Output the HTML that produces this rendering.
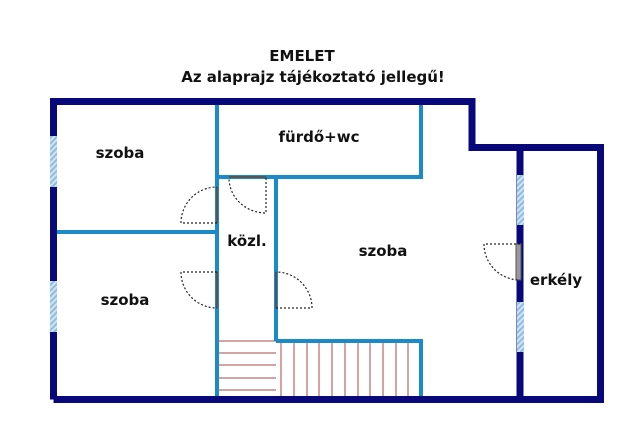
<!DOCTYPE html>
<html><head><style>
body{margin:0;background:#fff}
svg text{font-family:"DejaVu Sans","Liberation Sans",sans-serif;font-weight:bold;fill:#111}
</style></head><body>
<svg width="640" height="437" viewBox="0 0 640 437" xmlns="http://www.w3.org/2000/svg">
<defs><pattern id="h" width="4" height="4" patternUnits="userSpaceOnUse" patternTransform="rotate(45)"><rect width="4" height="4" fill="#cfe3f3"/><rect width="2" height="4" fill="#8fbde0"/></pattern></defs>
<text x="302" y="61" font-size="15" text-anchor="middle">EMELET</text>
<text x="313" y="82" font-size="15" text-anchor="middle">Az alaprajz tájékoztató jellegű!</text>
<!-- stairs -->
<g stroke="#a84848" stroke-width="1">
<line x1="219" y1="341" x2="276" y2="341"/><line x1="219" y1="353" x2="276" y2="353"/><line x1="219" y1="365" x2="276" y2="365"/><line x1="219" y1="378" x2="276" y2="378"/><line x1="219" y1="390" x2="276" y2="390"/>
<line x1="281" y1="341" x2="281" y2="397"/><line x1="294" y1="341" x2="294" y2="397"/><line x1="307" y1="341" x2="307" y2="397"/><line x1="319" y1="341" x2="319" y2="397"/><line x1="332" y1="341" x2="332" y2="397"/><line x1="345" y1="341" x2="345" y2="397"/><line x1="358" y1="341" x2="358" y2="397"/><line x1="370" y1="341" x2="370" y2="397"/><line x1="383" y1="341" x2="383" y2="397"/><line x1="396" y1="341" x2="396" y2="397"/><line x1="408" y1="341" x2="408" y2="397"/>
</g>
<!-- blue walls -->
<g stroke="#1a8ac8" stroke-width="4" fill="none">
<line x1="217" y1="104" x2="217" y2="398"/>
<line x1="56" y1="232" x2="217" y2="232"/>
<polyline points="421,104 421,177 217,177"/>
<line x1="276" y1="177" x2="276" y2="341"/>
<polyline points="276,341 421,341 421,398"/>
</g>
<!-- outer walls -->
<g stroke="#08087a" stroke-width="7" fill="none">
<polyline points="53.5,399.5 53.5,101.5 472,101.5 472,147.5 600.5,147.5 600.5,399.5 53.5,399.5"/>
<line x1="520" y1="147" x2="520" y2="400"/>
</g>
<!-- windows -->
<rect x="50" y="136" width="7" height="51" fill="url(#h)"/>
<rect x="50" y="281" width="7" height="51" fill="url(#h)"/>
<rect x="517" y="175" width="7" height="50" fill="url(#h)"/>
<rect x="517" y="302" width="7" height="50" fill="url(#h)"/>
<!-- doors -->
<g stroke="#555" stroke-width="2">
<line x1="217" y1="187" x2="217" y2="223"/><line x1="217" y1="272" x2="217" y2="308"/>
<line x1="229" y1="177" x2="266" y2="177"/><line x1="276" y1="272" x2="276" y2="308"/>
</g>
<rect x="516" y="244" width="5" height="36" fill="#999" stroke="#555" stroke-width="1"/>
<g stroke="#222" stroke-width="1.2" stroke-dasharray="2,2" fill="none">
<path d="M217,223 H181 A36,36 0 0 1 217,187"/>
<path d="M217,272 H181 A36,36 0 0 0 217,308"/>
<path d="M266,178 V213 A37,35 0 0 1 229,178"/>
<path d="M276,308 H312 A36,36 0 0 0 276,272"/>
<path d="M520,244 H484 A36,36 0 0 0 520,280"/>
</g>
<text x="120" y="158" font-size="15" text-anchor="middle">szoba</text>
<text x="125" y="305" font-size="15" text-anchor="middle">szoba</text>
<text x="319" y="142" font-size="15" text-anchor="middle">fürdő+wc</text>
<text x="247" y="246" font-size="15" text-anchor="middle">közl.</text>
<text x="383" y="256" font-size="15" text-anchor="middle">szoba</text>
<text x="556" y="285" font-size="15" text-anchor="middle">erkély</text>
</svg>
</body></html>
